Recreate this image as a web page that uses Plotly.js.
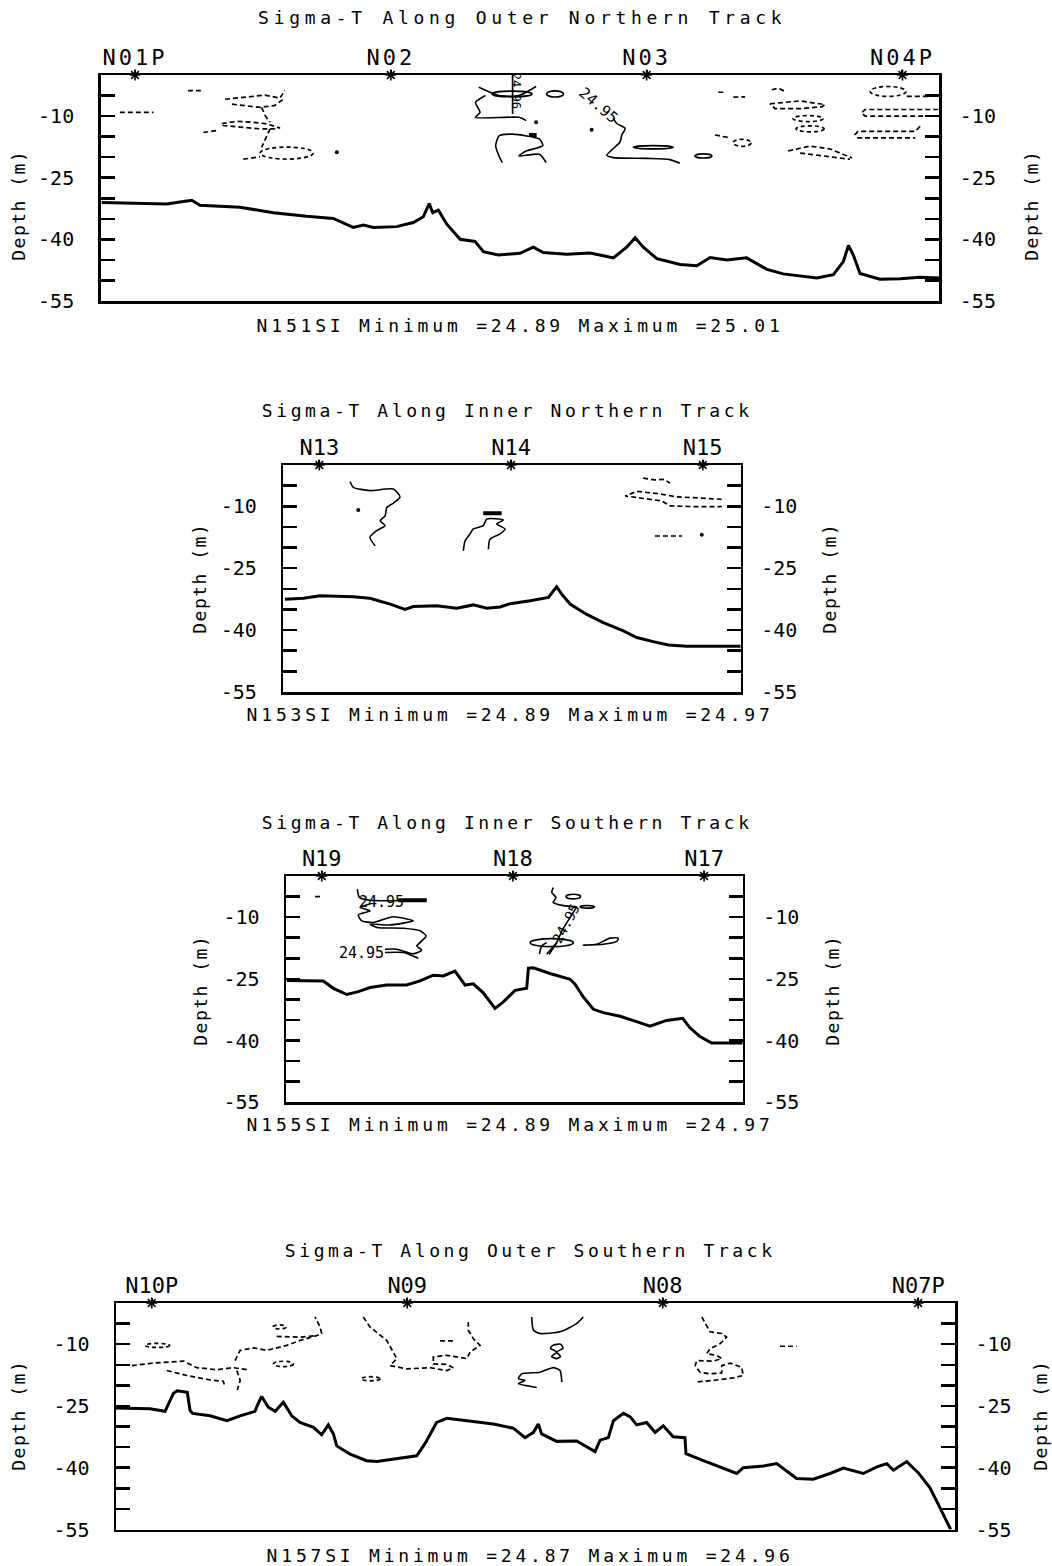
<!DOCTYPE html>
<html><head><meta charset="utf-8">
<script src="https://cdn.plot.ly/plotly-3.0.1.min.js"></script>
<style>
html,body{margin:0;padding:0;background:#fff;}
#chart{width:1052px;height:1566px;}
.xtick text{letter-spacing:3px;}
</style></head><body><div id="chart"></div><script>
// ---------------- DATA ----------------
// Panel 1: Sigma-T Along Outer Northern Track (x = along-track distance in station spacings)
const p1Title = 'Sigma-T Along Outer Northern Track';
const p1Sub = 'N151SI Minimum =24.89 Maximum =25.01';
const p1Names = ['N01P','N02','N03','N04P'];
const p1Stations = [0,1,2,3];
const p1Dist = [-0.130,0.124,0.189,0.222,0.254,0.410,0.541,0.671,0.775,0.814,0.853,0.893,0.932,1.023,1.088,1.127,1.150,1.164,1.186,1.219,1.271,1.329,1.362,1.420,1.505,1.557,1.596,1.688,1.779,1.870,1.922,1.955,1.987,2.040,2.131,2.196,2.248,2.313,2.391,2.470,2.534,2.665,2.730,2.769,2.789,2.808,2.834,2.912,2.991,3.069,3.144];
const p1Depth = [-31.0,-31.4,-30.8,-30.5,-31.7,-32.2,-33.5,-34.4,-34.9,-36.1,-37.1,-36.5,-37.1,-36.9,-35.9,-34.5,-31.3,-33.5,-32.9,-36.3,-40.0,-40.5,-43.0,-43.8,-43.4,-41.9,-43.2,-43.6,-43.3,-44.5,-41.9,-39.6,-41.9,-44.7,-46.1,-46.4,-44.4,-45.0,-44.5,-47.3,-48.4,-49.4,-48.6,-45.4,-41.5,-43.8,-48.3,-49.7,-49.6,-49.2,-49.4];
const p1Dashed = [
 [[-0.059,0.072],[-9.1,-9.1]],
 [[0.207,0.262],[-3.8,-3.8]],
 [[0.352,0.43,0.508,0.567,0.586],[-5.9,-5.4,-4.9,-5.6,-3.7]],
 [[0.379,0.489,0.547,0.579],[-7.1,-7.9,-7.4,-5.9]],
 [[0.267,0.319],[-14.0,-13.5]],
 [[0.339,0.398,0.462,0.515,0.567,0.541,0.489,0.423,0.345,0.339],[-11.8,-11.3,-11.5,-11.9,-12.9,-13.1,-13.1,-12.7,-12.3,-11.8]],
 [[0.495,0.510,0.528],[-7.9,-10.0,-11.5]],
 [[0.528,0.515,0.495],[-13.1,-15.0,-17.6]],
 [[0.423,0.489],[-20.5,-19.9]],
 [[2.280,2.300],[-4.2,-4.2]],
 [[2.339,2.385],[-5.4,-5.3]],
 [[2.267,2.326],[-14.6,-15.3]],
 [[2.489,2.515,2.541],[-3.6,-3.2,-4.0]],
 [[2.482,2.600,2.697,2.686,2.600,2.502,2.482],[-7.0,-6.3,-7.2,-7.7,-8.2,-8.2,-7.0]],
 [[2.553,2.639,2.717,2.803],[-18.5,-17.3,-18.0,-20.2]],
 [[2.600,2.717,2.795],[-19.0,-19.8,-20.5]],
 [[3.017,3.108],[-5.2,-5.2]],
 [[3.140,2.854,2.840,2.854,3.140],[-8.4,-8.4,-9.2,-10.0,-10.0]],
 [[3.069,3.050,2.826,2.815,2.826,3.050],[-12.5,-13.7,-13.7,-14.5,-15.3,-15.3]]
];
const p1Solid = [
 [[1.344,1.423,1.501,1.568],[-3.0,-5.0,-5.0,-2.8]],
 [[1.370,1.331,1.349,1.331,1.501,1.529],[-5.0,-6.7,-9.1,-10.3,-10.3,-11.1]],
 [[1.476,1.476],[0,-9.5]],
 [[1.436,1.423,1.410,1.423,1.476,1.581,1.594,1.529,1.501,1.581,1.607],[-21.3,-19.7,-17.2,-14.8,-14.4,-15.6,-17.2,-18.5,-19.7,-19.3,-21.3]],
 [[1.870,1.883,1.916,1.903,1.896,1.870,1.844,1.870,2.000,2.091,2.130],[-10.5,-11.8,-13.0,-14.6,-16.3,-17.9,-19.5,-20.1,-20.3,-20.6,-21.5]]
];
const p1Thick = [[[1.54,1.57],[-14.6,-14.6]]];
const p1Loops = [[0.593,-19.0,0.104,1.46],[1.474,-4.6,0.078,0.7],[1.642,-4.6,0.033,0.75],[2.026,-17.6,0.078,0.4],[2.222,-19.7,0.033,0.5],[2.373,-16.5,0.035,0.85],[2.631,-10.6,0.059,0.73],[2.639,-13.1,0.055,0.73],[2.944,-4.0,0.07,1.2]];
const p1LoopDashed = [1,0,0,0,0,1,1,1,1];
const p1Dots = [[1.568,1.785,0.789],[-11.5,-13.3,-18.8]];
const p1Labels = [['24.95',1.81,-7.3],['24.96',1.49,-3.9]];

// Panel 2: Sigma-T Along Inner Northern Track
const p2Title = 'Sigma-T Along Inner Northern Track';
const p2Sub = 'N153SI Minimum =24.89 Maximum =24.97';
const p2Names = ['N13','N14','N15'];
const p2Stations = [0,1,2];
const p2Dist = [-0.179,-0.083,0.004,0.177,0.264,0.369,0.447,0.490,0.612,0.717,0.803,0.873,0.943,0.995,1.099,1.195,1.221,1.238,1.264,1.308,1.395,1.481,1.586,1.656,1.742,1.821,1.917,2.021,2.198];
const p2Depth = [-32.5,-32.3,-31.7,-31.9,-32.3,-33.7,-35.0,-34.3,-34.1,-34.7,-33.9,-34.7,-34.4,-33.6,-32.9,-32.1,-30.5,-29.5,-31.3,-33.7,-36.2,-38.2,-40.2,-41.8,-42.8,-43.6,-43.9,-43.9,-43.9];
const p2Dashed = [
 [[2.099,1.969,1.864,1.760,1.656,1.595,1.708,1.786,1.829,1.969,2.099],[-8.3,-8.0,-7.7,-6.9,-6.4,-7.5,-8.3,-8.7,-9.9,-10.1,-10.1]],
 [[1.689,1.75,1.80,1.829],[-3.2,-3.6,-3.5,-4.4]],
 [[1.751,1.892],[-17.2,-17.2]]
];
const p2Solid = [
 [[0.160,0.177,0.264,0.386,0.421,0.378,0.352,0.343,0.317,0.343,0.299,0.264,0.291],[-4.0,-5.4,-6.2,-5.8,-7.8,-9.5,-10.3,-12.3,-13.5,-14.7,-15.9,-17.5,-19.6]],
 [[0.751,0.760,0.786,0.803,0.855,0.873,0.960,0.925,0.969,0.943,0.890,0.882],[-20.8,-18.4,-16.7,-15.5,-14.7,-13.1,-13.3,-14.3,-15.5,-16.7,-18.0,-20.4]]
];
const p2Thick = [[[0.855,0.951],[-11.7,-11.7]]];
const p2Loops = [];
const p2LoopDashed = [];
const p2Dots = [[0.203,1.995],[-10.9,-16.9]];
const p2Labels = [];

// Panel 3: Sigma-T Along Inner Southern Track
const p3Title = 'Sigma-T Along Inner Southern Track';
const p3Sub = 'N155SI Minimum =24.89 Maximum =24.97';
const p3Names = ['N19','N18','N17'];
const p3Stations = [0,1,2];
const p3Dist = [-0.183,0.008,0.061,0.131,0.191,0.253,0.340,0.444,0.514,0.584,0.636,0.697,0.750,0.793,0.845,0.906,0.950,1.011,1.072,1.081,1.107,1.194,1.299,1.325,1.368,1.421,1.473,1.560,1.647,1.717,1.804,1.888,1.926,1.978,2.040,2.202];
const p3Depth = [-25.4,-25.5,-27.3,-28.8,-28.1,-27.1,-26.5,-26.5,-25.5,-24.1,-24.3,-23.1,-26.5,-26.2,-28.4,-32.2,-30.6,-27.8,-27.3,-22.4,-22.3,-23.7,-25.1,-26.3,-29.4,-32.4,-33.2,-34.1,-35.4,-36.5,-35.1,-34.6,-36.9,-39.0,-40.6,-40.6];
const p3Dashed = [
 [[-0.035,0.0],[-5.0,-5.0]]
];
const p3Solid = [
 [[0.186,0.197,0.253,0.549],[-3.2,-5.2,-5.9,-5.9]],
 [[0.253,0.200,0.253,0.191,0.209,0.270,0.374,0.479,0.357,0.253,0.288,0.427,0.514,0.546,0.514,0.497,0.523,0.479,0.392,0.331],[-6.8,-7.6,-8.5,-9.4,-10.9,-11.3,-9.9,-10.9,-11.9,-11.7,-12.5,-12.7,-13.3,-14.6,-16.2,-17.0,-18.0,-18.9,-17.8,-17.8]],
 [[0.331,0.427,0.505],[-18.6,-18.6,-20.0]],
 [[1.211,1.203,1.225,1.211,1.264,1.334],[-2.8,-4.0,-5.2,-6.4,-7.2,-7.5]],
 [[1.334,1.30,1.26,1.229,1.19],[-7.5,-10.0,-13.0,-16.2,-19.0]],
 [[1.368,1.438,1.508,1.551,1.543,1.473,1.368],[-16.8,-16.6,-15.1,-15.1,-15.9,-16.6,-16.8]],
 [[1.138,1.151,1.177],[-19.0,-17.0,-16.2]],
 [[1.177,1.229],[-19.0,-16.2]]
];
const p3Thick = [[[0.40,0.549],[-5.9,-5.9]]];
const p3Loops = [[1.203,-16.2,0.113,0.98],[1.316,-5.0,0.038,0.57],[1.389,-7.5,0.038,0.33]];
const p3LoopDashed = [0,0,0];
const p3Dots = [[],[]];
const p3Labels = [['24.95',0.311,-6.3],['24.95',0.209,-18.7],['24.95',1.28,-11.5]];

// Panel 4: Sigma-T Along Outer Southern Track
const p4Title = 'Sigma-T Along Outer Southern Track';
const p4Sub = 'N157SI Minimum =24.87 Maximum =24.96';
const p4Names = ['N10P','N09','N08','N07P'];
const p4Stations = [0,1,2,3];
const p4Dist = [-0.140,-0.007,0.052,0.069,0.085,0.100,0.139,0.150,0.160,0.228,0.294,0.346,0.404,0.413,0.430,0.456,0.483,0.515,0.548,0.580,0.633,0.665,0.691,0.711,0.724,0.776,0.841,0.881,0.972,1.037,1.070,1.115,1.155,1.233,1.337,1.415,1.461,1.494,1.513,1.526,1.585,1.663,1.735,1.755,1.787,1.807,1.846,1.872,1.898,1.937,1.970,2.002,2.041,2.087,2.091,2.159,2.224,2.290,2.315,2.394,2.446,2.524,2.589,2.655,2.707,2.785,2.838,2.877,2.903,2.955,3.000,3.046,3.085,3.127];
const p4Depth = [-25.5,-25.7,-26.3,-24.1,-21.9,-21.3,-21.7,-26.1,-26.8,-27.4,-28.6,-27.4,-26.3,-24.9,-22.7,-25.3,-26.3,-24.1,-27.4,-29.0,-30.2,-32.0,-29.6,-31.8,-34.7,-36.7,-38.3,-38.5,-37.7,-37.1,-34.1,-29.0,-28.0,-28.6,-29.4,-30.4,-32.7,-31.4,-29.4,-31.8,-33.6,-33.5,-36.1,-33.3,-32.7,-28.6,-26.8,-27.6,-29.6,-29.0,-31.4,-29.8,-32.5,-32.7,-36.6,-38.3,-39.8,-41.4,-40.0,-39.6,-39.0,-42.6,-42.8,-41.4,-40.1,-41.4,-39.8,-39.0,-40.6,-38.5,-41.2,-44.9,-49.7,-55.0];
const p4Dashed = [
 [[-0.078,0.006,0.124,0.176,0.254,0.319,0.372],[-15.2,-14.6,-14.1,-15.7,-16.2,-15.7,-16.2]],
 [[0.059,0.137,0.228,0.280,0.287],[-16.4,-17.6,-18.7,-19.0,-20.5]],
 [[0.326,0.346,0.398,0.450,0.528,0.580,0.646,0.665,0.659,0.639],[-14.0,-11.5,-10.9,-11.5,-10.3,-9.1,-7.9,-7.4,-5.8,-3.4]],
 [[0.333,0.346,0.335],[-16.4,-18.8,-21.1]],
 [[0.489,0.580,0.646],[-8.1,-8.3,-7.9]],
 [[0.828,0.854,0.920,0.946,0.959,0.933,0.998,1.089,1.155,1.180,1.155,1.102,1.102,1.155,1.233,1.246,1.285,1.259,1.239,1.239],[-3.4,-5.8,-9.1,-11.9,-13.5,-15.2,-16.0,-15.7,-16.4,-15.7,-14.9,-14.8,-13.1,-12.7,-13.5,-11.9,-10.3,-8.7,-6.6,-4.6]],
 [[1.128,1.187],[-9.2,-9.2]],
 [[2.153,2.166,2.185,2.231,2.250,2.224,2.185,2.172,2.211,2.231,2.198,2.133,2.127,2.146,2.185,2.231,2.231,2.264,2.309,2.315,2.276,2.211,2.133],[-3.4,-5.0,-7.0,-7.4,-8.3,-9.9,-11.1,-12.3,-12.7,-13.5,-14.1,-14.0,-15.2,-16.8,-17.2,-17.0,-15.2,-14.6,-15.6,-17.6,-18.2,-18.7,-19.2]],
 [[2.459,2.524],[-10.5,-10.5]]
];
const p4Solid = [
 [[1.487,1.494,1.520,1.598,1.663,1.689],[-3.4,-6.6,-7.4,-7.0,-5.0,-3.4]],
 [[1.57,1.60,1.61,1.585,1.60,1.585,1.565,1.585,1.56,1.57],[-10.3,-10.0,-11.0,-11.9,-13.0,-13.5,-13.0,-11.9,-11.0,-10.3]],
 [[1.507,1.435,1.461,1.435,1.448,1.520,1.572,1.598,1.605],[-20.5,-19.6,-18.8,-18.4,-17.2,-16.8,-15.7,-16.4,-19.2]]
];
const p4Thick = [];
const p4Loops = [[0.022,-10.3,0.048,0.5],[0.515,-14.8,0.039,0.65],[0.50,-5.8,0.025,0.5],[0.857,-18.4,0.037,0.5]];
const p4LoopDashed = [1,1,1,1];
const p4Dots = [[],[]];
const p4Labels = [];

// Depth axis ticks
const depthTickVals = [-5,-10,-15,-20,-25,-30,-35,-40,-45,-50,-55];
const depthTickText = ['','-10','','','-25','','','-40','','','-55'];
const depthRange = [-55, 0];

// ---------------- LAYOUT (pixels) ----------------
const W = 1052, H = 1566;
const geo = [
 {bx:[100.7,939.3], by:[75,301], xr:[-0.134,3.144], tX:522, tY:18, sX:520, sY:325, lX:18, rX:1031, dY:205, tSp:4.7, labAng:[41,90], labSz:[15,12]},
 {bx:[283.3,740.7], by:[465,692], xr:[-0.188,2.198], tX:507, tY:410, sX:510, sY:715, lX:200, rX:830, dY:578, tSp:3.6, labAng:[], labSz:[]},
 {bx:[286,742.7], by:[876,1102.3], xr:[-0.187,2.202], tX:507, tY:822, sX:510, sY:1124, lX:200, rX:832, dY:990, tSp:3.6, labAng:[0,0,-62], labSz:[15,15,14]},
 {bx:[116,955], by:[1303,1529.5], xr:[-0.140,3.144], tX:530, tY:1250, sX:530, sY:1555, lX:18, rX:1040, dY:1415, tSp:3.6, labAng:[], labSz:[]}
];
const panels = [
 {title:p1Title, sub:p1Sub, names:p1Names, st:p1Stations, dist:p1Dist, depth:p1Depth, dashed:p1Dashed, solid:p1Solid, thick:p1Thick, loops:p1Loops, loopDash:p1LoopDashed, dots:p1Dots, labels:p1Labels},
 {title:p2Title, sub:p2Sub, names:p2Names, st:p2Stations, dist:p2Dist, depth:p2Depth, dashed:p2Dashed, solid:p2Solid, thick:p2Thick, loops:p2Loops, loopDash:p2LoopDashed, dots:p2Dots, labels:p2Labels},
 {title:p3Title, sub:p3Sub, names:p3Names, st:p3Stations, dist:p3Dist, depth:p3Depth, dashed:p3Dashed, solid:p3Solid, thick:p3Thick, loops:p3Loops, loopDash:p3LoopDashed, dots:p3Dots, labels:p3Labels},
 {title:p4Title, sub:p4Sub, names:p4Names, st:p4Stations, dist:p4Dist, depth:p4Depth, dashed:p4Dashed, solid:p4Solid, thick:p4Thick, loops:p4Loops, loopDash:p4LoopDashed, dots:p4Dots, labels:p4Labels}
];

const FONT = 'DejaVu Sans Mono, Liberation Mono, monospace';
const sfx = n => n === 1 ? '' : String(n);
const traces = [];
const layout = {
  width: W, height: H, margin:{l:0,r:0,t:0,b:0},
  paper_bgcolor:'#fff', plot_bgcolor:'#fff', showlegend:false,
  font:{family:FONT, color:'#000'},
  annotations:[], shapes:[]
};
const spacing = {};

panels.forEach((p, i) => {
  const g = geo[i];
  const xn = i + 1, yl = 2*i + 1, yr = 2*i + 2;
  const xref = 'x' + sfx(xn), ylref = 'y' + sfx(yl), yrref = 'y' + sfx(yr);
  const xd = [g.bx[0]/W, g.bx[1]/W];
  const yd = [1 - g.by[1]/H, 1 - g.by[0]/H];
  layout['xaxis' + sfx(xn)] = {
    domain: xd, range: g.xr, anchor: ylref, side:'top',
    tickvals: p.st, ticktext: p.names, ticks:'outside', ticklen:3, tickwidth:2, tickcolor:'#000',
    tickfont:{family:FONT, size:22, color:'#000'}, ticklabelstandoff:-4,
    showline:true, mirror:true, linewidth:2.5, linecolor:'#000',
    showgrid:false, zeroline:false, fixedrange:true
  };
  const yaxisBase = {
    domain: yd, range: depthRange, anchor: xref,
    tickvals: depthTickVals, ticktext: depthTickText, ticks:'inside', ticklen:14, tickwidth:2.5, tickcolor:'#000',
    tickfont:{family:FONT, size:20, color:'#000'},
    showline:true, linewidth:2.5, linecolor:'#000', showgrid:false, zeroline:false, fixedrange:true
  };
  layout['yaxis' + sfx(yl)] = Object.assign({}, yaxisBase, {side:'left', ticklabelstandoff:20});
  layout['yaxis' + sfx(yr)] = Object.assign({}, yaxisBase, {side:'right', overlaying: ylref, ticklabelstandoff:14});

  // sea-floor profile
  traces.push({type:'scatter', mode:'lines', x:p.dist, y:p.depth, xaxis:xref, yaxis:ylref,
    line:{color:'#000', width:3}, hoverinfo:'skip'});
  // contour fragments
  p.dashed.forEach(f => traces.push({type:'scatter', mode:'lines', x:f[0], y:f[1], xaxis:xref, yaxis:ylref,
    line:{color:'#000', width:1.7, dash:'5px,3px'}, hoverinfo:'skip'}));
  p.solid.forEach(f => traces.push({type:'scatter', mode:'lines', x:f[0], y:f[1], xaxis:xref, yaxis:ylref,
    line:{color:'#000', width:1.6, shape:'spline', smoothing:0.6}, hoverinfo:'skip'}));
  p.thick.forEach(f => traces.push({type:'scatter', mode:'lines', x:f[0], y:f[1], xaxis:xref, yaxis:ylref,
    line:{color:'#000', width:4}, hoverinfo:'skip'}));
  if (p.dots[0].length) traces.push({type:'scatter', mode:'markers', x:p.dots[0], y:p.dots[1], xaxis:xref, yaxis:ylref,
    marker:{color:'#000', size:4}, hoverinfo:'skip'});
  // station marks on the surface line
  traces.push({type:'scatter', mode:'markers', x:p.st, y:p.st.map(() => depthRange[1]), xaxis:xref, yaxis:yrref,
    marker:{symbol:'asterisk-open', size:9, color:'#000', line:{color:'#000', width:1.6}}, cliponaxis:false, hoverinfo:'skip'});
  // closed contours
  p.loops.forEach((l, k) => layout.shapes.push({type:'circle', xref:xref, yref:ylref,
    x0:l[0]-l[2], x1:l[0]+l[2], y0:l[1]-l[3], y1:l[1]+l[3],
    line:{color:'#000', width:1.7, dash: p.loopDash[k] ? '4px,3px' : 'solid'}}));
  // contour labels
  p.labels.forEach((lb, k) => layout.annotations.push({xref:xref, yref:ylref, x:lb[1], y:lb[2], text:lb[0],
    showarrow:false, textangle:g.labAng[k], font:{family:FONT, size:g.labSz[k], color:'#000'}}));
  // titles
  layout.annotations.push({xref:'paper', yref:'paper', x:g.tX/W, y:1-g.tY/H, text:p.title, showarrow:false,
    xanchor:'center', yanchor:'middle', font:{family:FONT, size:18, color:'#000'}});
  spacing[p.title] = g.tSp;
  layout.annotations.push({xref:'paper', yref:'paper', x:g.sX/W, y:1-g.sY/H, text:p.sub, showarrow:false,
    xanchor:'center', yanchor:'middle', font:{family:FONT, size:18, color:'#000'}});
  spacing[p.sub] = 3.8;
  [g.lX, g.rX].forEach(px => layout.annotations.push({xref:'paper', yref:'paper', x:px/W, y:1-g.dY/H,
    text:'Depth (m)', showarrow:false, textangle:-90, xanchor:'center', yanchor:'middle',
    font:{family:FONT, size:18, color:'#000'}}));
});
spacing['Depth (m)'] = 1.5;

Plotly.newPlot('chart', traces, layout, {staticPlot:true, displayModeBar:false}).then(gd => {
  gd.querySelectorAll('.annotation-text').forEach(t => {
    const s = spacing[t.textContent];
    if (s) t.style.letterSpacing = s + 'px';
  });
});
</script></body></html>
